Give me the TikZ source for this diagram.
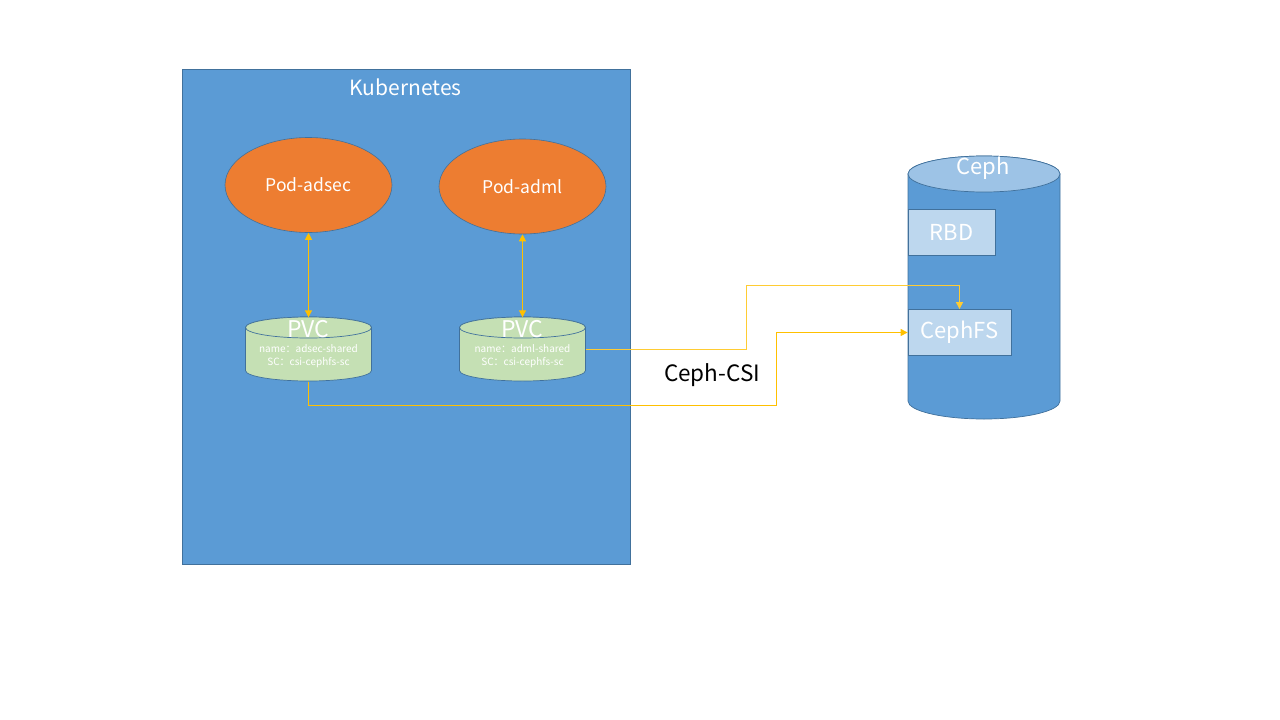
\documentclass[tikz,border=0pt]{standalone}
\usepackage{fontspec}
\setmainfont{Noto Sans CJK SC}
\usetikzlibrary{shapes.geometric,arrows.meta}
\definecolor{kblue}{HTML}{5B9BD5}
\definecolor{kborder}{HTML}{41719C}
\definecolor{porange}{HTML}{ED7D31}
\definecolor{pgreen}{HTML}{C5E0B4}
\definecolor{ctop}{HTML}{9DC3E6}
\definecolor{lbox}{HTML}{BDD7EE}
\definecolor{ylw}{HTML}{FFC000}
\definecolor{ylwl}{HTML}{FFCC33}
\tikzset{
  kbox/.style={rectangle, draw=kborder, fill=kblue, line width=0.8pt, inner sep=0},
  pod/.style={ellipse, draw=kborder, fill=porange, line width=0.6pt, inner sep=0,
    minimum width=167, minimum height=95, text=white, font=\fontsize{17.5}{19}\selectfont},
  hold/.style={rectangle, inner sep=0},
  cyl/.style={draw=kborder, line width=0.7pt},
  wtxt/.style={text=white, inner sep=0},
  sbox/.style={rectangle, draw=kborder, fill=lbox, line width=0.8pt, inner sep=0,
    text=white, font=\fontsize{22}{24}\selectfont},
  conn/.style={draw=ylw, line width=1pt},
  tip/.style={-{Triangle[length=7pt,width=7pt]}},
  dtip/.style={{Triangle[length=7pt,width=7pt]}-{Triangle[length=7pt,width=7pt]}}
}
\begin{document}
\begin{tikzpicture}[x=1pt,y=-1pt]
\useasboundingbox (0,0) rectangle (1280,720);
% Kubernetes box
\node[kbox, minimum width=448, minimum height=495] (k8s) at (406,316.5) {};
\node[wtxt, font=\fontsize{21}{23}\selectfont] (klabel) at (405.5,87) {Kubernetes};
% Pods
\node[pod] (podA) at (308.5,185) {Pod-adsec};
\node[pod] (podB) at (522.5,186.5) {Pod-adml};
% PVC A cylinder
\node[hold, minimum width=126, minimum height=64] (pvcA) at (308.5,349.5) {};
\draw[cyl, fill=pgreen] (245.5,327.5) -- (245.5,370.5) arc[start angle=180, end angle=0, x radius=63, y radius=10.5]
  -- (371.5,327.5) arc[start angle=0, end angle=-180, x radius=63, y radius=10.5] -- cycle;
\draw[cyl, fill=pgreen] (308.5,327.5) ellipse[x radius=63, y radius=10.5];
\node[wtxt, font=\fontsize{23}{24}\selectfont] (pvcAt) at (308.5,329) {PVC};
\node[wtxt, font=\fontsize{10}{13}\selectfont, align=center] (pvcAi) at (308.5,356.5) {name：adsec-shared\\SC：csi-cephfs-sc};
% PVC B cylinder
\node[hold, minimum width=126, minimum height=64] (pvcB) at (522.5,349.5) {};
\draw[cyl, fill=pgreen] (459.5,327.5) -- (459.5,370.5) arc[start angle=180, end angle=0, x radius=63, y radius=10.5]
  -- (585.5,327.5) arc[start angle=0, end angle=-180, x radius=63, y radius=10.5] -- cycle;
\draw[cyl, fill=pgreen] (522.5,327.5) ellipse[x radius=63, y radius=10.5];
\node[wtxt, font=\fontsize{23}{24}\selectfont] (pvcBt) at (522.5,329) {PVC};
\node[wtxt, font=\fontsize{10}{13}\selectfont, align=center] (pvcBi) at (522.5,356.5) {name：adml-shared\\SC：csi-cephfs-sc};
% Ceph cylinder
\node[hold, minimum width=152, minimum height=263] (ceph) at (984,287.5) {};
\draw[cyl, fill=kblue] (908,174) -- (908,401) arc[start angle=180, end angle=0, x radius=76, y radius=18]
  -- (1060,174) arc[start angle=0, end angle=-180, x radius=76, y radius=18] -- cycle;
\draw[cyl, fill=ctop] (984,174) ellipse[x radius=76, y radius=18];
\node[wtxt, font=\fontsize{22}{24}\selectfont] (cephl) at (983,168) {Ceph};
% Ceph inner boxes
\node[sbox, minimum width=87, minimum height=46] (rbd) at (951.5,232) {RBD};
\node[sbox, minimum width=103, minimum height=46] (cephfs) at (959.5,332.5) {CephFS};
% Pod <-> PVC
\draw[conn, dtip] (podA.south) -- (pvcA.north);
\draw[conn, dtip] (podB.south) -- (pvcB.north);
% PVC -> CephFS
\coordinate (j1) at (746.5,285.5);
\coordinate (j2) at (776.5,405.5);
\draw[conn, draw=ylwl, tip] (pvcB.east) -| (j1) -| (cephfs.north);
\draw[conn, tip] (pvcA.south) |- (j2) |- (cephfs.west);
% Label
\node[inner sep=0, text=black, font=\fontsize{22.5}{24}\selectfont] (csi) at (712,375) {Ceph-CSI};
\end{tikzpicture}
\end{document}
